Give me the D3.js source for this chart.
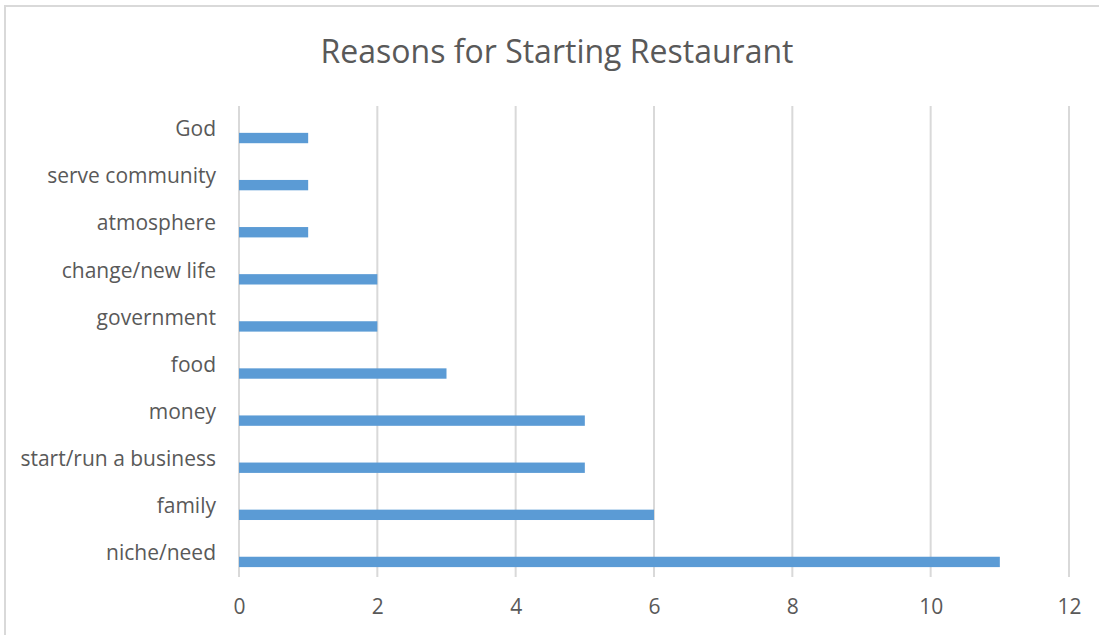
<!DOCTYPE html>
<html>
<head>
<meta charset="utf-8">
<script src="https://cdn.jsdelivr.net/npm/d3@7"></script>
<style>
  body { margin: 0; background: #fff; }
  svg { display: block; }
  text { font-family: "Open Sans", sans-serif; fill: #595959; }
</style>
</head>
<body>
<svg></svg>
<script>
(function () {
  var width = 1099;
  var height = 635;

  // categories listed top to bottom
  var categories = ["God", "serve community", "atmosphere", "change/new life", "government",
                    "food", "money", "start/run a business", "family", "niche/need"];
  var counts = [1, 1, 1, 2, 2, 3, 5, 5, 6, 11];
  var xTicks = [0, 2, 4, 6, 8, 10, 12];

  var svg = d3.select("svg")
        .attr("width", width)
        .attr("height", height);

  var margin = {top: 106, right: 30, bottom: 58, left: 239};
  var plot_width = width - margin.left - margin.right;
  var plot_height = height - margin.top - margin.bottom;

  // chart border (only top/left visible in frame)
  svg.append("rect")
    .attr("x", 5).attr("y", 6)
    .attr("width", width + 20).attr("height", height + 20)
    .attr("fill", "none")
    .attr("stroke", "#d9d9d9")
    .attr("stroke-width", 2);

  svg.append("text")
    .attr("x", 557)
    .attr("y", 63)
    .attr("text-anchor", "middle")
    .style("font-size", "32px")
    .text("Reasons for Starting Restaurant");

  var g = svg.append("g").attr("transform", "translate(" + margin.left + "," + margin.top + ")");

  var x = d3.scaleLinear()
        .domain([0, 12])
        .range([0, plot_width]);

  var y = d3.scaleBand()
        .domain(categories)
        .range([0, plot_height]);

  // gridlines
  g.append("g")
    .attr("class", "grid")
    .selectAll("line")
    .data(xTicks)
    .enter().append("line")
    .attr("x1", function(d) { return x(d); })
    .attr("x2", function(d) { return x(d); })
    .attr("y1", 0)
    .attr("y2", plot_height)
    .attr("stroke", "#d9d9d9")
    .attr("stroke-width", 2);

  // bars sit in the lower part of each band (Excel-style offset)
  g.selectAll(".bar")
    .data(categories)
    .enter().append("rect")
    .attr("class", "bar")
    .attr("x", x(0))
    .attr("y", function(d) { return y(d) + y.bandwidth() * 0.57; })
    .attr("width", function(d, i) { return x(counts[i]) - x(0); })
    .attr("height", y.bandwidth() * 0.22)
    .attr("fill", "#5b9bd5");

  // x axis
  var xAxis = g.append("g")
    .attr("transform", "translate(0," + plot_height + ")")
    .call(d3.axisBottom(x).tickValues(xTicks).tickSize(0).tickPadding(22));
  xAxis.select(".domain").remove();
  xAxis.selectAll("text")
    .style("font-size", "21px")
    .attr("fill", "#595959");

  // y axis labels
  var yAxis = g.append("g")
    .call(d3.axisLeft(y).tickSize(0).tickPadding(23));
  yAxis.select(".domain").remove();
  yAxis.selectAll("text")
    .style("font-size", "21px")
    .attr("fill", "#595959")
    .attr("dy", "0.32em");
})();
</script>
</body>
</html>
